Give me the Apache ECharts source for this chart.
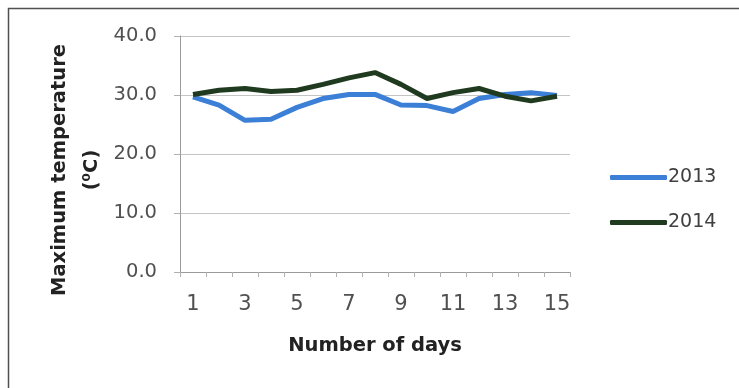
<!DOCTYPE html>
<html>
<head>
<meta charset="utf-8">
<script src="https://cdn.jsdelivr.net/npm/echarts@6/dist/echarts.min.js"></script>
<style>
  html, body { margin: 0; padding: 0; background: #fff; }
  #chart { width: 739px; height: 388px; }
</style>
</head>
<body>
<div id="chart"></div>
<script>
const days = ['1', '2', '3', '4', '5', '6', '7', '8', '9', '10', '11', '12', '13', '14', '15']
const temp2013 = [29.7, 28.3, 25.7, 25.9, 27.9, 29.4, 30.1, 30.1, 28.3, 28.2, 27.2, 29.4, 30.1, 30.4, 29.9]
const temp2014 = [30.1, 30.8, 31.1, 30.6, 30.8, 31.8, 32.9, 33.8, 31.8, 29.4, 30.4, 31.1, 29.8, 29.0, 29.8]

const font = 'DejaVu Sans'
const chart = echarts.init(document.getElementById('chart'))

chart.setOption({
  animation: false,
  grid: { left: 180, right: 169, top: 36, bottom: 116 },
  legend: {
    orient: 'vertical',
    left: 605,
    top: 163,
    itemGap: 26,
    itemWidth: 57,
    itemHeight: 5,
    icon: 'roundRect',
    textStyle: { fontFamily: font, fontSize: 19, color: '#404040', padding: [0, 0, 0, -4] },
    data: ['2013', '2014']
  },
  xAxis: {
    type: 'category',
    data: days,
    boundaryGap: true,
    axisLine: { lineStyle: { color: '#9a9a9a', width: 1 } },
    axisTick: { show: true, interval: 0, length: 5, lineStyle: { color: '#b0b0b0' } },
    axisLabel: { interval: 1, fontFamily: font, fontSize: 21, color: '#505050', margin: 22 },
    name: 'Number of days',
    nameLocation: 'middle',
    nameGap: 64,
    nameTextStyle: { fontFamily: font, fontSize: 19.5, fontWeight: 'bold', color: '#222' }
  },
  yAxis: {
    type: 'value',
    min: 0,
    max: 40,
    interval: 10,
    axisLine: { show: true, lineStyle: { color: '#9a9a9a', width: 1 } },
    axisTick: { show: true, length: 6, lineStyle: { color: '#b0b0b0' } },
    splitLine: { lineStyle: { color: '#c4c4c4', width: 1 } },
    axisLabel: {
      fontFamily: font, fontSize: 19.5, color: '#505050', margin: 23,
      formatter: v => v.toFixed(1)
    }
  },
  graphic: [
    {
      type: 'text',
      x: 76, y: 170,
      rotation: Math.PI / 2,
      style: {
        text: 'Maximum temperature\n(⁰C)',
        fontFamily: font, fontSize: 19.5, fontWeight: 'bold', fill: '#222',
        lineHeight: 32,
        align: 'center', verticalAlign: 'middle'
      }
    },
    {
      type: 'polyline',
      shape: { points: [[8.5, 388], [8.5, 8.5], [739, 8.5]] },
      style: { stroke: '#505050', lineWidth: 1.5, fill: null }
    }
  ],
  series: [
    {
      name: '2013',
      type: 'line',
      data: temp2013,
      showSymbol: false,
      lineStyle: { color: '#3b7fd6', width: 5 },
      itemStyle: { color: '#3b7fd6' }
    },
    {
      name: '2014',
      type: 'line',
      data: temp2014,
      showSymbol: false,
      lineStyle: { color: '#1f3a1f', width: 5 },
      itemStyle: { color: '#1f3a1f' }
    }
  ]
})

window.addEventListener('resize', () => chart.resize())
</script>
</body>
</html>
